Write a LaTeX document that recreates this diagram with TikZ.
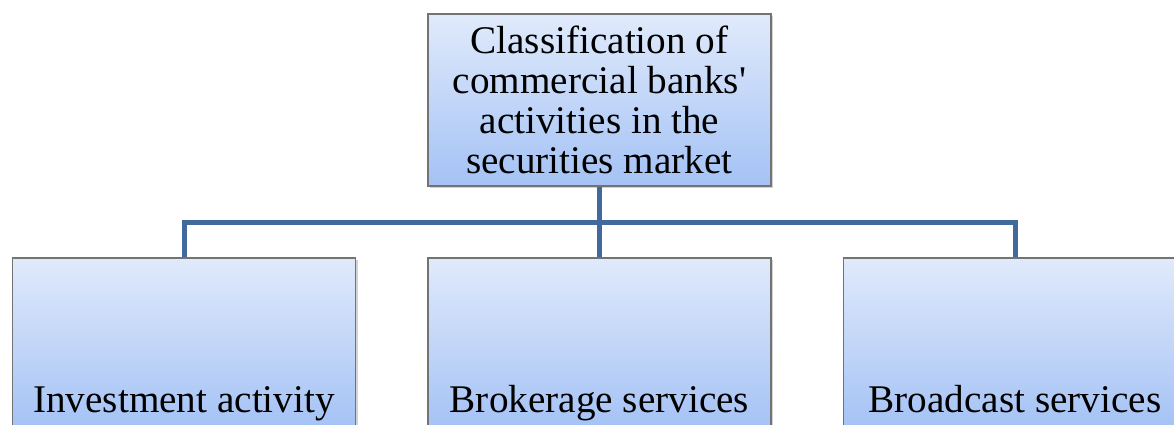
\documentclass[tikz,border=0pt]{standalone}
\usepackage{fontspec}
\setmainfont{Liberation Serif}
\usetikzlibrary{positioning,shadows}

\definecolor{boxtop}{HTML}{E0EAFB}
\definecolor{boxbot}{HTML}{A4C2F5}
\definecolor{linkblue}{HTML}{41699B}

\begin{document}
\begin{tikzpicture}[
  x=0.5pt, y=-0.5pt,
  every node/.style = {draw=gray!90!black, line width=0.6pt, top color=boxtop, bottom color=boxbot,
                       inner sep=0pt, minimum width=171.5pt, font=\fontsize{19.6}{20}\selectfont,
                       drop shadow={opacity=0.35, shadow xshift=1pt, shadow yshift=-1.2pt}},
  edge from parent/.style = {draw=linkblue, line width=2.5pt},
  edge from parent path = {(\tikzparentnode.south) -- +(0pt,-18pt) -| (\tikzchildnode.north)},
  level distance = 122pt,
  sibling distance = 207.75pt,
  leaf/.style = {text height=77pt, text depth=9pt}
]
  \useasboundingbox (0,0) rectangle (1174,424);
  \clip (0,0) rectangle (1174,424);
  \node[minimum height=86pt, align=center] (root) at (599.5,100)
    {Classification of\\ commercial banks\textquotesingle\\ activities in the\\ securities market}
  child {node[leaf] (invest) {Investment activity}}
  child {node[leaf] (broker) {Brokerage services}}
  % child {node[leaf] (dealer) {...}}
  child {node[leaf] (broad) {Broadcast services}};
\end{tikzpicture}
\end{document}
